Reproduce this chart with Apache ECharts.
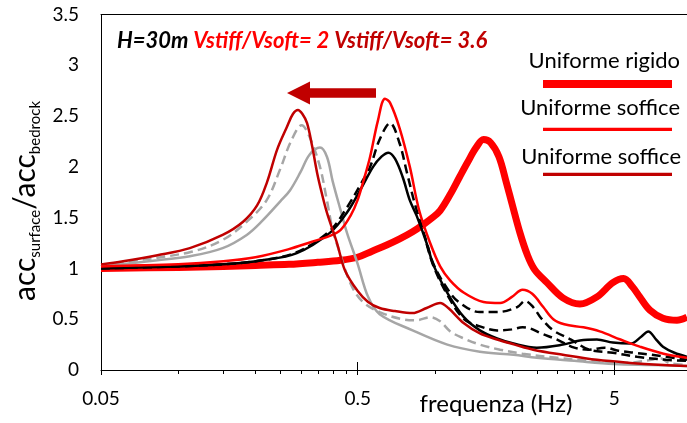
<!DOCTYPE html>
<html><head><meta charset="utf-8">
<script src="https://cdn.jsdelivr.net/npm/echarts@6/dist/echarts.min.js"></script>
<style>html,body{margin:0;padding:0;background:#fff}#c{width:687px;height:423px}</style>
</head><body><div id="c"></div>
<script>
// ---- data: [frequency (Hz), acc_surface/acc_bedrock] ----
const xTickLabels = [0.05, 0.5, 5];
const minorTicks = [0.1,0.15,0.2,0.25,0.3,0.35,0.4,0.45,1,1.5,2,2.5,3,3.5,4,4.5];
const yTicks = [0, 0.5, 1, 1.5, 2, 2.5, 3, 3.5];

const rigido = [[0.05,1.0],[0.1,1.01],[0.15,1.02],[0.2,1.03],[0.27,1.04],[0.35,1.06],[0.43,1.08],[0.5,1.11],[0.57,1.17],[0.65,1.23],[0.73,1.29],[0.82,1.36],[0.9,1.43],[0.98,1.50],[1.05,1.57],[1.15,1.73],[1.25,1.9],[1.34,2.04],[1.45,2.19],[1.55,2.27],[1.65,2.24],[1.78,2.10],[1.9,1.85],[2.0,1.64],[2.15,1.35],[2.3,1.13],[2.45,0.99],[2.74,0.86],[3.16,0.71],[3.68,0.65],[4.29,0.72],[4.95,0.86],[5.45,0.90],[5.9,0.82],[6.3,0.72],[6.9,0.59],[7.76,0.51],[8.8,0.49],[9.63,0.52]];
const soffice2 = [[0.05,1.02],[0.1,1.04],[0.15,1.07],[0.2,1.11],[0.27,1.19],[0.33,1.26],[0.39,1.32],[0.43,1.38],[0.47,1.52],[0.5,1.67],[0.53,1.88],[0.56,2.1],[0.6,2.45],[0.64,2.67],[0.67,2.63],[0.73,2.38],[0.8,2.0],[0.87,1.57],[0.96,1.25],[1.05,1.02],[1.15,0.88],[1.3,0.76],[1.55,0.67],[1.8,0.66],[2.0,0.72],[2.2,0.79],[2.4,0.75],[2.65,0.62],[2.9,0.5],[3.2,0.45],[3.8,0.42],[4.4,0.38],[5.3,0.30],[6.3,0.23],[7.8,0.16],[9.63,0.12]];
const soffice36 = [[0.05,1.04],[0.061,1.07],[0.083,1.13],[0.111,1.20],[0.149,1.33],[0.179,1.46],[0.203,1.62],[0.222,1.85],[0.243,2.17],[0.265,2.39],[0.28,2.52],[0.293,2.56],[0.305,2.52],[0.318,2.43],[0.333,2.2],[0.348,1.94],[0.363,1.74],[0.38,1.55],[0.416,1.25],[0.447,0.98],[0.5,0.78],[0.55,0.67],[0.61,0.61],[0.7,0.58],[0.82,0.56],[0.93,0.61],[1.05,0.66],[1.13,0.61],[1.3,0.46],[1.5,0.36],[1.75,0.30],[2.05,0.25],[2.42,0.20],[3.16,0.15],[4.29,0.10],[5.8,0.07],[7.76,0.05],[9.63,0.04]];
const blackSolid = [[0.05,1.0],[0.1,1.02],[0.15,1.04],[0.213,1.08],[0.29,1.15],[0.39,1.35],[0.455,1.55],[0.52,1.80],[0.575,2.0],[0.62,2.1],[0.66,2.14],[0.7,2.08],[0.75,1.90],[0.8,1.67],[0.85,1.52],[0.93,1.25],[0.99,1.03],[1.12,0.76],[1.3,0.52],[1.5,0.39],[1.75,0.31],[2.03,0.26],[2.5,0.22],[3.16,0.25],[3.68,0.29],[4.29,0.30],[4.95,0.27],[5.8,0.26],[6.4,0.33],[6.8,0.38],[7.3,0.30],[7.76,0.23],[8.6,0.17],[9.63,0.13]];
const blackDashA = [[0.05,1.0],[0.1,1.02],[0.15,1.04],[0.213,1.08],[0.29,1.16],[0.39,1.37],[0.455,1.6],[0.52,1.85],[0.56,2.0],[0.61,2.27],[0.67,2.43],[0.73,2.23],[0.78,1.94],[0.84,1.62],[0.93,1.26],[0.99,1.04],[1.12,0.80],[1.24,0.67],[1.5,0.57],[1.75,0.57],[2.1,0.62],[2.25,0.68],[2.42,0.62],[2.6,0.51],[2.9,0.39],[3.4,0.30],[4.0,0.20],[4.95,0.17],[6.15,0.13],[8,0.1],[9.63,0.09]];
const blackDashB = [[0.93,1.24],[0.99,1.02],[1.12,0.74],[1.3,0.5],[1.5,0.43],[1.75,0.39],[2.0,0.40],[2.2,0.42],[2.35,0.41],[2.6,0.36],[3.0,0.30],[3.5,0.22],[4.0,0.20],[4.6,0.22],[5.2,0.19],[6,0.17],[7,0.15],[8,0.13],[9.63,0.1]];
const graySolid = [[0.05,1.02],[0.083,1.08],[0.111,1.12],[0.149,1.20],[0.185,1.33],[0.213,1.47],[0.25,1.66],[0.273,1.77],[0.3,1.95],[0.325,2.12],[0.357,2.19],[0.38,2.1],[0.4,1.86],[0.43,1.57],[0.455,1.35],[0.5,1.05],[0.55,0.72],[0.61,0.55],[0.82,0.39],[1.12,0.25],[1.5,0.18],[2.03,0.15],[2.5,0.12],[3.5,0.09],[5,0.06],[7,0.05],[9.63,0.04]];
const grayDash = [[0.05,1.02],[0.061,1.06],[0.111,1.16],[0.149,1.28],[0.185,1.46],[0.221,1.67],[0.25,1.98],[0.275,2.25],[0.303,2.41],[0.326,2.29],[0.357,2.0],[0.38,1.67],[0.4,1.38],[0.427,1.15],[0.47,0.85],[0.52,0.68],[0.61,0.57],[0.75,0.5],[0.85,0.49],[0.96,0.52],[1.05,0.48],[1.15,0.38],[1.3,0.31],[1.5,0.25],[1.8,0.2],[2.2,0.16],[3,0.12],[4,0.09],[5.5,0.07],[7,0.1],[7.5,0.12],[8.2,0.07],[9.63,0.05]];

const lg = v => Math.log10(v);
const toXY = arr => arr.map(p => [lg(p[0]), p[1]]);
const FONT = 'Lato';

function line(data, color, width, dash, z) {
  return {type:'line', data: toXY(data), showSymbol:false, smooth:0.35, z:z,
    lineStyle:{color:color, width:width, type: dash ? [9,5] : 'solid', cap:'butt'},
    animation:false, silent:true};
}

const tickData = xTickLabels.map(f => [lg(f), 1]).concat(minorTicks.map(f => [lg(f), 0]));

const chart = echarts.init(document.getElementById('c'), null, {renderer:'canvas'});
chart.setOption({
  animation:false,
  backgroundColor:'#fff',
  grid:{left:101, right:0, top:14.5, bottom:53, containLabel:false},
  xAxis:[{
    type:'value', min: lg(0.05), max: lg(9.63), interval:1,
    axisLine:{onZero:false, lineStyle:{color:'#000', width:1}},
    axisTick:{show:false}, splitLine:{show:false},
    axisLabel:{fontFamily:FONT, fontSize:19, color:'#000', margin:19, showMaxLabel:false,
      formatter: v => { const t = Math.pow(10, v); const m = xTickLabels.find(x => Math.abs(x - t) / x < 0.01); return m === undefined ? '' : String(m); }}
  },{
    type:'value', position:'top', min: lg(0.05), max: lg(9.63),
    axisLine:{show:true, onZero:false, lineStyle:{color:'#000', width:1}},
    axisTick:{show:false}, axisLabel:{show:false}, splitLine:{show:false}
  }],
  yAxis:{type:'value', min:yTicks[0], max:yTicks[yTicks.length-1], interval:0.5,
    axisLine:{show:true, onZero:false, lineStyle:{color:'#000', width:1}},
    axisTick:{show:false}, splitLine:{show:false},
    axisLabel:{fontFamily:FONT, fontSize:19, color:'#000', margin:22}},
  series:[
    line(rigido, '#ff0000', 7, false, 2),
    line(graySolid, '#a6a6a6', 2.5, false, 3),
    line(grayDash, '#a6a6a6', 2.5, true, 3),
    line(blackSolid, '#000000', 2.5, false, 4),
    line(blackDashA, '#000000', 2.5, true, 4),
    line(blackDashB, '#000000', 2.5, true, 4),
    line(soffice2, '#ff0000', 2.5, false, 5),
    line(soffice36, '#c00000', 2.5, false, 6),
    {type:'custom', data:tickData, clip:false, silent:true, z:10, animation:false,
      renderItem:(params, api) => {
        const p = api.coord([api.value(0), 0]);
        const major = api.value(1) === 1;
        const x = Math.round(p[0]) + 0.5;
        return {type:'line', shape:{x1:x, y1:p[1] - (major ? 8 : 0), x2:x, y2:p[1] + (major ? 5 : 4)},
          style:{stroke:'#000', lineWidth:1}};
      }}
  ],
  graphic:[
    {type:'text', x:117, y:41, style:{
      text:'{k|H=30m} {r|Vstiff/Vsoft= 2} {d|Vstiff/Vsoft= 3.6}',
      verticalAlign:'middle', fontFamily:FONT, fontSize:22, fontWeight:'bold', fontStyle:'italic',
      rich:{
        k:{fill:'#000', fontFamily:FONT, fontSize:22, fontWeight:'bold', fontStyle:'italic'},
        r:{fill:'#ff0000', fontFamily:FONT, fontSize:22, fontWeight:'bold', fontStyle:'italic'},
        d:{fill:'#c00000', fontFamily:FONT, fontSize:22, fontWeight:'bold', fontStyle:'italic'}
      }}},
    {type:'polygon', shape:{points:[[287,93],[310,81.5],[310,88.3],[376,88.3],[376,97.7],[310,97.7],[310,104.5]]},
      style:{fill:'#c00000'}},
    {type:'text', x:680, y:61, style:{text:'Uniforme rigido', align:'right', verticalAlign:'middle', fontFamily:FONT, fontSize:22, fill:'#000'}},
    {type:'line', shape:{x1:543, y1:84, x2:672, y2:84}, style:{stroke:'#ff0000', lineWidth:8}},
    {type:'text', x:680, y:108, style:{text:'Uniforme soffice', align:'right', verticalAlign:'middle', fontFamily:FONT, fontSize:22, fill:'#000'}},
    {type:'line', shape:{x1:543, y1:129.3, x2:672, y2:129.3}, style:{stroke:'#ff0000', lineWidth:3.3}},
    {type:'text', x:681, y:157, style:{text:'Uniforme soffice', align:'right', verticalAlign:'middle', fontFamily:FONT, fontSize:22, fill:'#000'}},
    {type:'line', shape:{x1:543, y1:174.3, x2:672, y2:174.3}, style:{stroke:'#c00000', lineWidth:3.3}},
    {type:'text', x:25.5, y:201, rotation:Math.PI/2, style:{
      text:'{a|acc}{s|surface}{a|/acc}{s|bedrock}', align:'center', verticalAlign:'middle',
      rich:{
        a:{fontFamily:FONT, fontSize:30, lineHeight:34, verticalAlign:'middle', fill:'#000'},
        s:{fontFamily:FONT, fontSize:15, lineHeight:11, verticalAlign:'bottom', fill:'#000'}
      }}},
    {type:'text', x:496, y:404, style:{text:'frequenza (Hz)', align:'center', verticalAlign:'middle', fontFamily:FONT, fontSize:24, fill:'#000'}}
  ]
});
</script></body></html>
